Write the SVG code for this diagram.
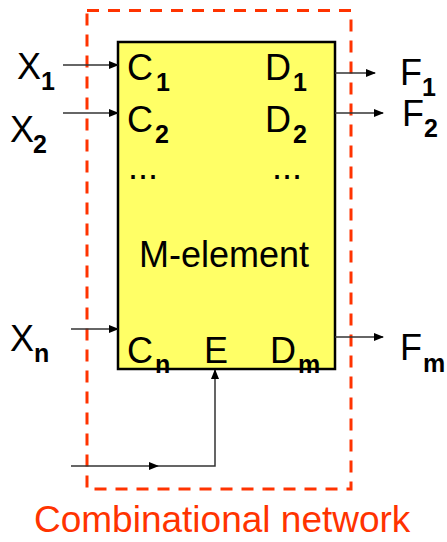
<svg xmlns="http://www.w3.org/2000/svg" width="447" height="542" viewBox="0 0 447 542">
<style>
text{font-family:"Liberation Sans",Arial,sans-serif;font-size:36px;fill:#000}
.s{font-size:25px;font-weight:bold}
.w{stroke:#333;stroke-width:1.5;fill:none}
.net{fill:#FF3300;font-size:37px}
</style>
<defs>
<marker id="ah" markerWidth="10" markerHeight="8" refX="9" refY="4" orient="auto" markerUnits="userSpaceOnUse">
<path d="M0,0 L10,4 L0,8 Z" fill="#000"/>
</marker>
</defs>
<g id="network">
<rect x="87" y="10.5" width="264" height="478.5" fill="none" stroke="#FF3300" stroke-width="3" stroke-dasharray="12 9"/>
<text class="net" x="34" y="532">Combinational network</text>
</g>
<g id="m-element">
<rect x="118" y="42" width="217" height="327" fill="#FFFF66" stroke="#000" stroke-width="2.5"/>
<text x="127" y="80">C<tspan class="s" x="156" y="91">1</tspan></text>
<text x="127" y="132">C<tspan class="s" x="155" y="143">2</tspan></text>
<text x="128" y="179">...</text>
<text x="265" y="80">D<tspan class="s" x="293" y="91">1</tspan></text>
<text x="265" y="132">D<tspan class="s" x="293" y="143">2</tspan></text>
<text x="272" y="179">...</text>
<text x="139" y="267">M-element</text>
<text x="127" y="363">C<tspan class="s" x="155" y="373">n</tspan></text>
<text x="204" y="363">E</text>
<text x="270" y="363">D<tspan class="s" x="298" y="373">m</tspan></text>
</g>
<g id="inputs">
<text x="17" y="79">X<tspan class="s" x="41" y="90">1</tspan></text>
<text x="10" y="142">X<tspan class="s" x="33" y="153">2</tspan></text>
<text x="10" y="351">X<tspan class="s" x="34" y="362">n</tspan></text>
</g>
<g id="outputs">
<text x="400" y="85">F<tspan class="s" x="422" y="96">1</tspan></text>
<text x="402" y="126">F<tspan class="s" x="424" y="137">2</tspan></text>
<text x="400" y="360">F<tspan class="s" x="423" y="372">m</tspan></text>
</g>
<g id="connectors">
<line class="w" x1="63" y1="65" x2="118" y2="65" marker-end="url(#ah)"/>
<line class="w" x1="63" y1="113" x2="118" y2="113" marker-end="url(#ah)"/>
<line class="w" x1="71" y1="329" x2="118" y2="329" marker-end="url(#ah)"/>
<line class="w" x1="335" y1="73" x2="375" y2="73" marker-end="url(#ah)"/>
<line class="w" x1="335" y1="113" x2="383" y2="113" marker-end="url(#ah)"/>
<line class="w" x1="335" y1="337" x2="383" y2="337" marker-end="url(#ah)"/>
<line class="w" x1="71" y1="466" x2="158" y2="466" marker-end="url(#ah)"/>
<polyline class="w" points="158,466 215,466 215,370" marker-end="url(#ah)"/>
</g>
</svg>
